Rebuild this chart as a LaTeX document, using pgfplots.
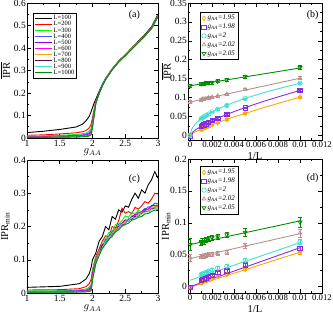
\documentclass[border=0pt]{standalone}
\usepackage{pgfplots}
\usepackage{pgfplotstable}
\pgfplotsset{compat=1.18}
\usepackage{fontspec}
\setmainfont{Liberation Serif}

\definecolor{cL400}{RGB}{80,80,255}
\definecolor{violetG}{RGB}{148,0,211}
\definecolor{magentaG}{RGB}{255,0,255}
\definecolor{orangeG}{RGB}{255,165,0}
\definecolor{maroonG}{RGB}{103,7,72}
\definecolor{turqG}{RGB}{64,224,208}
\definecolor{greenFour}{RGB}{0,139,0}
\definecolor{greenG}{RGB}{0,255,0}
\definecolor{bviolet}{RGB}{138,43,226}
\definecolor{rosyG}{RGB}{188,143,143}

% Panel (a)
\pgfplotstableread{
g     A    B    C    D    E    F    G    H    I    J
1.00  0.024  0.012  0.008  0.006  0.005  0.004  0.0035 0.003  0.0028 0.0025
1.25  0.030  0.014  0.0095 0.007  0.0058 0.0048 0.0042 0.0036 0.0032 0.0029
1.50  0.038  0.018  0.012  0.009  0.007  0.006  0.005  0.0045 0.004  0.0036
1.75  0.049  0.023  0.0155 0.0115 0.009  0.0076 0.0065 0.0057 0.0051 0.0046
1.85  0.062  0.028  0.019  0.014  0.011  0.0093 0.008  0.007  0.0062 0.0056
1.90  0.076  0.033  0.022  0.017  0.013  0.011  0.0095 0.008  0.0072 0.0065
1.95  0.096  0.045  0.030  0.023  0.018  0.015  0.013  0.011  0.010  0.009
1.98  0.118  0.062  0.043  0.034  0.028  0.024  0.021  0.018  0.016  0.015
2.00  0.135  0.092  0.075  0.068  0.062  0.058  0.055  0.052  0.050  0.048
2.02  0.152  0.122  0.112  0.106  0.101  0.098  0.095  0.093  0.091  0.090
2.05  0.172  0.162  0.159  0.157  0.156  0.155  0.155  0.154  0.154  0.153
2.10  0.207  0.202  0.200  0.199  0.199  0.198  0.198  0.198  0.197  0.197
2.15  0.238  0.235  0.234  0.233  0.233  0.233  0.232  0.232  0.232  0.232
2.20  0.265  0.263  0.262  0.262  0.261  0.261  0.261  0.261  0.260  0.260
2.30  0.307  0.306  0.305  0.304  0.304  0.304  0.304  0.303  0.303  0.303
2.40  0.342  0.341  0.340  0.339  0.339  0.339  0.338  0.338  0.338  0.338
2.50  0.370  0.369  0.368  0.367  0.367  0.367  0.366  0.366  0.366  0.366
2.60  0.400  0.399  0.398  0.397  0.397  0.397  0.396  0.396  0.396  0.395
2.70  0.430  0.428  0.427  0.426  0.426  0.426  0.425  0.425  0.425  0.424
2.80  0.460  0.457  0.456  0.455  0.455  0.454  0.454  0.454  0.453  0.453
2.90  0.494  0.491  0.489  0.488  0.488  0.487  0.487  0.487  0.486  0.486
3.00  0.550  0.546  0.545  0.544  0.543  0.543  0.542  0.542  0.541  0.539
}\tabA

% Panel (c)
\pgfplotstableread{
g     A     B     C     D      E      F      G      H      I      J
1.00  0.017 0.009 0.006 0.005  0.004  0.0035 0.003  0.0027 0.0024 0.0022
1.50  0.020 0.010 0.007 0.0055 0.0045 0.004  0.0035 0.003  0.0027 0.0025
1.80  0.028 0.013 0.009 0.007  0.0055 0.0048 0.0042 0.0037 0.0033 0.003
1.90  0.042 0.019 0.012 0.009  0.007  0.006  0.005  0.0045 0.004  0.0036
1.95  0.058 0.028 0.017 0.013  0.010  0.008  0.007  0.006  0.0052 0.0046
1.98  0.078 0.042 0.026 0.020  0.016  0.013  0.011  0.009  0.008  0.007
2.00  0.100 0.070 0.065 0.055  0.060  0.050  0.048  0.045  0.042  0.040
2.05  0.120 0.110 0.110 0.100  0.095  0.096  0.094  0.092  0.090  0.088
2.10  0.155 0.132 0.117 0.130  0.125  0.122  0.126  0.118  0.116  0.112
2.15  0.170 0.156 0.152 0.137  0.146  0.134  0.138  0.142  0.137  0.134
2.20  0.200 0.172 0.163 0.161  0.151  0.159  0.149  0.152  0.155  0.147
2.25  0.190 0.168 0.182 0.165  0.172  0.164  0.169  0.161  0.163  0.162
2.30  0.230 0.200 0.183 0.186  0.178  0.183  0.175  0.178  0.180  0.170
2.35  0.222 0.195 0.206 0.188  0.195  0.190  0.192  0.184  0.185  0.184
2.40  0.250 0.218 0.207 0.207  0.195  0.193  0.198  0.200  0.196  0.190
2.45  0.243 0.255 0.217 0.209  0.210  0.211  0.202  0.205  0.207  0.201
2.50  0.262 0.240 0.232 0.218  0.220  0.212  0.216  0.209  0.210  0.206
2.55  0.258 0.245 0.228 0.216  0.218  0.223  0.218  0.220  0.218  0.210
2.60  0.282 0.238 0.242 0.232  0.228  0.222  0.227  0.222  0.226  0.219
2.65  0.300 0.258 0.237 0.231  0.237  0.233  0.227  0.230  0.226  0.222
2.70  0.285 0.252 0.249 0.244  0.236  0.240  0.236  0.231  0.234  0.228
2.75  0.310 0.262 0.244 0.239  0.245  0.239  0.243  0.239  0.237  0.230
2.80  0.300 0.275 0.255 0.249  0.253  0.246  0.243  0.245  0.244  0.238
2.85  0.325 0.270 0.250 0.259  0.251  0.253  0.250  0.245  0.244  0.239
2.90  0.340 0.282 0.261 0.259  0.263  0.253  0.252  0.252  0.251  0.245
2.95  0.365 0.300 0.270 0.270  0.263  0.259  0.261  0.255  0.253  0.249
3.00  0.345 0.298 0.270 0.268  0.264  0.260  0.261  0.256  0.258  0.250
}\tabC

% Panel (b) data: x y err
\pgfplotstableread{
x y e
0.01 0.101 0.003
0.005 0.058 0.002
0.003333 0.042 0.002
0.0025 0.033 0.002
0.002 0.028 0.002
0.001667 0.024 0.002
0.001429 0.021 0.002
0.00125 0.019 0.002
0.001111 0.017 0.002
0.001 0.015 0.002
0 -0.002 0.002
}\bO
\pgfplotstableread{
x y e
0.01 0.119 0.003
0.005 0.073 0.002
0.003333 0.055 0.002
0.0025 0.045 0.002
0.002 0.039 0.002
0.001667 0.034 0.002
0.001429 0.030 0.002
0.00125 0.028 0.002
0.001111 0.026 0.002
0.001 0.023 0.002
0 -0.002 0.002
}\bP
\pgfplotstableread{
x y e
0.01 0.138 0.003
0.005 0.097 0.002
0.003333 0.079 0.002
0.0025 0.069 0.002
0.002 0.062 0.002
0.001667 0.056 0.002
0.001429 0.052 0.002
0.00125 0.049 0.002
0.001111 0.046 0.002
0.001 0.043 0.002
0 0.000 0.002
}\bC
\pgfplotstableread{
x y e
0.01 0.151 0.004
0.005 0.121 0.003
0.003333 0.109 0.003
0.0025 0.104 0.003
0.002 0.101 0.003
0.001667 0.099 0.003
0.001429 0.097 0.003
0.00125 0.096 0.003
0.001111 0.095 0.003
0.001 0.094 0.003
0 0.088 0.004
}\bR
\pgfplotstableread{
x y e
0.01 0.179 0.005
0.005 0.155 0.004
0.003333 0.147 0.004
0.0025 0.143 0.004
0.002 0.140 0.004
0.001667 0.139 0.004
0.001429 0.138 0.004
0.00125 0.137 0.004
0.001111 0.137 0.004
0.001 0.136 0.004
0 0.131 0.004
}\bG

% Panel (d) data
\pgfplotstableread{
x y e
0.01 0.053 0.003
0.005 0.027 0.002
0.003333 0.019 0.002
0.0025 0.016 0.002
0.002 0.013 0.002
0.001667 0.011 0.002
0.001429 0.009 0.002
0.00125 0.008 0.002
0.001111 0.007 0.002
0.001 0.006 0.002
0 -0.001 0.002
}\dO
\pgfplotstableread{
x y e
0.01 0.060 0.003
0.005 0.034 0.002
0.003333 0.025 0.002
0.0025 0.022 0.002
0.002 0.018 0.002
0.001667 0.016 0.002
0.001429 0.014 0.002
0.00125 0.012 0.002
0.001111 0.011 0.002
0.001 0.010 0.002
0 -0.001 0.002
}\dP
\pgfplotstableread{
x y e
0.01 0.070 0.004
0.005 0.041 0.003
0.003333 0.032 0.003
0.0025 0.029 0.003
0.002 0.026 0.002
0.001667 0.024 0.002
0.001429 0.022 0.002
0.00125 0.021 0.002
0.001111 0.020 0.002
0.001 0.019 0.002
}\dC
\pgfplotstableread{
x y e
0.01 0.084 0.006
0.005 0.064 0.004
0.003333 0.054 0.003
0.0025 0.052 0.003
0.002 0.051 0.003
0.001667 0.050 0.003
0.001429 0.049 0.003
0.00125 0.048 0.003
0.001111 0.048 0.003
0.001 0.047 0.003
0 0.045 0.005
}\dR
\pgfplotstableread{
x y e
0.01 0.101 0.008
0.005 0.085 0.006
0.003333 0.081 0.004
0.0025 0.078 0.004
0.002 0.077 0.004
0.001667 0.075 0.004
0.001429 0.073 0.004
0.00125 0.071 0.004
0.001111 0.071 0.004
0.001 0.069 0.004
0 0.066 0.009
}\dG

\pgfplotsset{
  myax/.style={scale only axis, anchor=south west, tick align=inside,
    minor tick num=1, major tick length=4pt, minor tick length=2pt,
    every tick/.style={black, line width=0.5pt},
    axis line style={line width=0.6pt},
    scaled ticks=false,
    ticklabel style={font=\fontsize{9.5}{10}\selectfont},
    yticklabel style={inner xsep=1pt},
    xticklabel style={inner ysep=1.8pt},
    /pgf/number format/assume math mode=true,
    /pgf/number format/fixed, /pgf/number format/precision=3,
    label style={font=\fontsize{10.5}{11}\selectfont},
  },
  lgA/.style={legend style={at={(rel axis cs:0.046,0.926)}, anchor=north west,
    font=\fontsize{6.5}{7}\selectfont, draw=black, line width=0.5pt,
    inner sep=1.2pt, row sep=-2.2pt, nodes={inner sep=1.2pt}},
    legend cell align=left},
  lgB/.style={legend style={at={(rel axis cs:0.09,0.935)}, anchor=north west,
    font=\fontsize{7}{7.5}\selectfont, draw=black, line width=0.5pt,
    inner sep=1.5pt, row sep=-0.3pt, nodes={inner sep=1.5pt}},
    legend cell align=left},
  pts/.style={only marks, mark size=2.2pt, line width=0.7pt,
    error bars/y dir=both, error bars/y explicit,
    error bars/error bar style={line width=0.6pt},
    error bars/error mark options={rotate=90, mark size=2pt, line width=0.6pt}},
}

\begin{document}
\begin{tikzpicture}
\useasboundingbox (0pt,0pt) rectangle (333pt,314pt);

% ---------------- (a)
\begin{axis}[myax, at={(27pt,176pt)}, width=131pt, height=135pt,
  xmin=1, xmax=3, ymin=0, ymax=0.6,
  xtick={1,1.5,2,2.5,3}, ytick={0,0.1,0.2,0.3,0.4,0.5,0.6},
  xlabel={$g_{AA}$}, xlabel style={at={(axis description cs:0.5,-0.105)}, anchor=center},
  ylabel={$\overline{\mbox{IPR}}$}, ylabel style={at={(axis description cs:-0.165,0.5)}, anchor=center},
  lgA, every axis plot/.append style={line width=0.9pt}]
\addplot[black] table[x=g,y=A]{\tabA}; \addlegendentry{L=100}
\addplot[red] table[x=g,y=B]{\tabA}; \addlegendentry{L=200}
\addplot[greenG] table[x=g,y=C]{\tabA}; \addlegendentry{L=300}
\addplot[cL400] table[x=g,y=D]{\tabA}; \addlegendentry{L=400}
\addplot[violetG] table[x=g,y=E]{\tabA}; \addlegendentry{L=500}
\addplot[magentaG] table[x=g,y=F]{\tabA}; \addlegendentry{L=600}
\addplot[orangeG] table[x=g,y=G]{\tabA}; \addlegendentry{L=700}
\addplot[maroonG] table[x=g,y=H]{\tabA}; \addlegendentry{L=800}
\addplot[turqG] table[x=g,y=I]{\tabA}; \addlegendentry{L=900}
\addplot[greenFour] table[x=g,y=J]{\tabA}; \addlegendentry{L=1000}
\node[font=\fontsize{10}{11}\selectfont] at (rel axis cs:0.82,0.91) {(a)};
\end{axis}

% ---------------- (c)
\begin{axis}[myax, at={(27pt,21pt)}, width=131pt, height=133pt,
  xmin=1, xmax=3, ymin=0, ymax=0.4,
  xtick={1,1.5,2,2.5,3}, ytick={0,0.1,0.2,0.3,0.4},
  xlabel={$g_{AA}$}, xlabel style={at={(axis description cs:0.5,-0.115)}, anchor=center},
  ylabel={IPR\textsubscript{min}}, ylabel style={at={(axis description cs:-0.165,0.5)}, anchor=center},
  every axis plot/.append style={line width=0.9pt}]
\addplot[black] table[x=g,y=A]{\tabC};
\addplot[red] table[x=g,y=B]{\tabC};
\addplot[greenG] table[x=g,y=C]{\tabC};
\addplot[cL400] table[x=g,y=D]{\tabC};
\addplot[violetG] table[x=g,y=E]{\tabC};
\addplot[magentaG] table[x=g,y=F]{\tabC};
\addplot[orangeG] table[x=g,y=G]{\tabC};
\addplot[maroonG] table[x=g,y=H]{\tabC};
\addplot[turqG] table[x=g,y=I]{\tabC};
\addplot[greenFour] table[x=g,y=J]{\tabC};
\node[font=\fontsize{10}{11}\selectfont] at (rel axis cs:0.82,0.86) {(c)};
\end{axis}

% ---------------- (b)
\begin{axis}[myax, at={(188pt,174pt)}, width=134pt, height=137pt,
  xmin=-0.0002, xmax=0.012, ymin=-0.0125, ymax=0.35,
  xtick={0,0.002,0.004,0.006,0.008,0.01,0.012},
  ytick={0,0.05,0.1,0.15,0.2,0.25,0.3,0.35},
  xticklabel style={font=\fontsize{8.8}{9}\selectfont},
  xlabel={1/L}, xlabel style={at={(axis description cs:0.5,-0.12)}, anchor=center},
  ylabel={$\overline{\mbox{IPR}}$}, ylabel style={at={(axis description cs:-0.163,0.5)}, anchor=center},
  lgB]
\addplot[orangeG, line width=0.9pt, forget plot] coordinates {(0,0) (0.0002,0.0044) (0.0005,0.0092) (0.001,0.016) (0.002,0.0279) (0.003,0.0386) (0.004,0.0485) (0.005,0.058) (0.007,0.0759) (0.01,0.101)};
\addplot[bviolet, line width=0.9pt, forget plot] coordinates {(0,0) (0.0002,0.0077) (0.0005,0.0146) (0.001,0.0237) (0.002,0.0386) (0.003,0.0513) (0.004,0.0627) (0.005,0.0733) (0.007,0.0927) (0.01,0.119)};
\addplot[turqG, line width=0.9pt, forget plot] coordinates {(0,0) (0.0001,0.0138) (0.0003,0.024) (0.0006,0.034) (0.001,0.0436) (0.0015,0.0534) (0.002,0.0617) (0.003,0.0756) (0.004,0.0873) (0.005,0.0976) (0.007,0.1155) (0.01,0.138)};
\addplot[rosyG, line width=0.9pt, forget plot] coordinates {(0,0.088) (0.01,0.151)};
\addplot[greenFour, line width=0.9pt, forget plot] coordinates {(0,0.131) (0.01,0.178)};
\addplot[orangeG, pts, mark=diamond] table[x=x,y=y,y error=e]{\bO};
\addlegendentry{\textit{g}\textsubscript{\textit{AA}}\textit{=1.95}}
\addplot[bviolet, pts, mark=square] table[x=x,y=y,y error=e]{\bP};
\addlegendentry{\textit{g}\textsubscript{\textit{AA}}\textit{=1.98}}
\addplot[turqG, pts, mark=o] table[x=x,y=y,y error=e]{\bC};
\addlegendentry{\textit{g}\textsubscript{\textit{AA}}\textit{=2}}
\addplot[rosyG, pts, mark=triangle] table[x=x,y=y,y error=e]{\bR};
\addlegendentry{\textit{g}\textsubscript{\textit{AA}}\textit{=2.02}}
\addplot[greenFour, pts, mark=triangle, mark options={rotate=180}] table[x=x,y=y,y error=e]{\bG};
\addlegendentry{\textit{g}\textsubscript{\textit{AA}}\textit{=2.05}}
\node[font=\fontsize{10}{11}\selectfont] at (rel axis cs:0.93,0.91) {(b)};
\end{axis}

% ---------------- (d)
\begin{axis}[myax, at={(188pt,21pt)}, width=134pt, height=134pt,
  xmin=-0.0002, xmax=0.012, ymin=-0.01, ymax=0.2,
  xtick={0,0.002,0.004,0.006,0.008,0.01,0.012},
  ytick={0,0.05,0.1,0.15,0.2},
  xticklabel style={font=\fontsize{8.8}{9}\selectfont},
  xlabel={1/L}, xlabel style={at={(axis description cs:0.5,-0.12)}, anchor=center},
  ylabel={IPR\textsubscript{min}}, ylabel style={at={(axis description cs:-0.163,0.5)}, anchor=center},
  lgB, legend style={at={(rel axis cs:0.09,0.947)}}]
\addplot[orangeG, line width=0.9pt, forget plot] coordinates {(0,-0.001) (0.01,0.054)};
\addplot[bviolet, line width=0.9pt, forget plot] coordinates {(0,0.0) (0.01,0.061)};
\addplot[turqG, line width=0.9pt, forget plot] coordinates {(0,0.010) (0.01,0.069)};
\addplot[rosyG, line width=0.9pt, forget plot] coordinates {(0,0.044) (0.01,0.083)};
\addplot[greenFour, line width=0.9pt, forget plot] coordinates {(0,0.066) (0.01,0.103)};
\addplot[orangeG, pts, mark=diamond] table[x=x,y=y,y error=e]{\dO};
\addlegendentry{\textit{g}\textsubscript{\textit{AA}}\textit{=1.95}}
\addplot[bviolet, pts, mark=square] table[x=x,y=y,y error=e]{\dP};
\addlegendentry{\textit{g}\textsubscript{\textit{AA}}\textit{=1.98}}
\addplot[turqG, pts, mark=o] table[x=x,y=y,y error=e]{\dC};
\addlegendentry{\textit{g}\textsubscript{\textit{AA}}\textit{=2}}
\addplot[rosyG, pts, mark=triangle] table[x=x,y=y,y error=e]{\dR};
\addlegendentry{\textit{g}\textsubscript{\textit{AA}}\textit{=2.02}}
\addplot[greenFour, pts, mark=triangle, mark options={rotate=180}] table[x=x,y=y,y error=e]{\dG};
\addlegendentry{\textit{g}\textsubscript{\textit{AA}}\textit{=2.05}}
\node[font=\fontsize{10}{11}\selectfont] at (rel axis cs:0.93,0.86) {(d)};
\end{axis}
\end{tikzpicture}
\end{document}
